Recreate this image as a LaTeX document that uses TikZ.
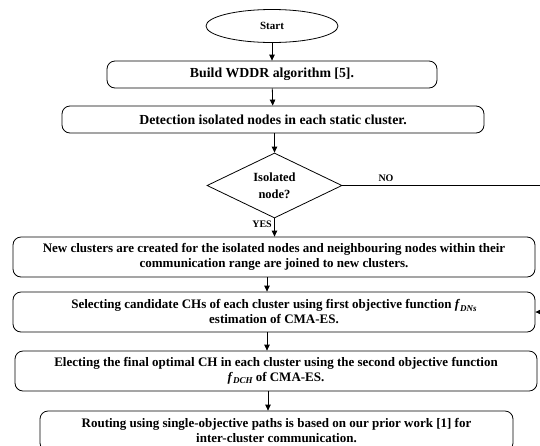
\documentclass[tikz,border=0pt]{standalone}
\usepackage{fontspec}
\setmainfont{Liberation Serif}
\usetikzlibrary{shapes.geometric,arrows.meta}
\tikzset{
  txt/.style={font=\fontsize{13}{15}\selectfont\bfseries, align=center},
  bigtxt/.style={font=\fontsize{13.8}{15}\selectfont\bfseries},
  rbox/.style={txt, draw, line width=0.8pt, rounded corners=8pt, inner sep=0pt},
  arr/.style={draw, line width=0.8pt, -{Triangle[length=6pt,width=5.5pt]}},
  lbl/.style={font=\fontsize{10}{12}\selectfont\bfseries, inner sep=0pt}
}
\newcommand{\fsub}[1]{\textit{f}\raisebox{-0.35ex}{\fontsize{9}{10}\selectfont\itshape #1}}
\begin{document}
\begin{tikzpicture}[x=1pt,y=-1pt]
\useasboundingbox (0,0) rectangle (540,445);
\clip (0,0) rectangle (540,445);
\node[txt, font=\fontsize{11}{13}\selectfont\bfseries, draw, line width=0.8pt, ellipse, minimum width=132pt, minimum height=33pt, inner sep=0pt] (start) at (272,26) {Start};
\node[rbox, bigtxt, minimum width=330pt, minimum height=27pt] (build) at (272,74.5) {Build WDDR algorithm [5].};
\node[rbox, bigtxt, minimum width=422pt, minimum height=27pt] (detect) at (273,119.5) {Detection isolated nodes in each static cluster.};
\node[draw, line width=0.8pt, diamond, aspect=2.08, minimum width=135pt, minimum height=65pt, inner sep=0pt, align=center, font=\fontsize{12.5}{16.5}\selectfont\bfseries] (dia) at (274.5,185.5) {Isolated\\node?};
\node[rbox, minimum width=522pt, minimum height=40pt] (new) at (274,257) {New clusters are created for the isolated nodes and neighbouring nodes within their\\communication range are joined to new clusters.};
\node[rbox, minimum width=522pt, minimum height=40pt] (sel) at (274,312) {Selecting candidate CHs of each cluster using first objective function \fsub{DNs}\\estimation of CMA-ES.};
\node[rbox, minimum width=522pt, minimum height=40pt] (elect) at (276,371) {Electing the final optimal CH in each cluster using the second objective function\\\fsub{DCH} of CMA-ES.};
\node[rbox, minimum width=473pt, minimum height=40pt] (route) at (276.5,431) {Routing using single-objective paths is based on our prior work [1] for\\inter-cluster communication.};
\coordinate (noc) at (546,185.5);
\node[lbl] (no) at (386,178) {NO};
\node[lbl, anchor=east] (yes) at (272,224) {YES};
\draw[arr] (start) -- (build);
\draw[arr] (build) -- (detect);
\draw[arr] (detect.south -| dia.north) -- (dia.north);
\draw[arr] (dia.south) -- (dia.south |- new.north);
\draw[arr] ([xshift=-7pt]new.south) -- ([xshift=-7pt]new.south |- sel.north);
\draw[arr] ([xshift=-7pt]sel.south) -- ([xshift=-7pt]sel.south |- elect.north);
\draw[arr] ([xshift=-8pt]elect.south) -- ([xshift=-8pt]elect.south |- route.north);
\draw[arr] (dia.east) -- (noc) |- (sel.east);
\end{tikzpicture}
\end{document}
